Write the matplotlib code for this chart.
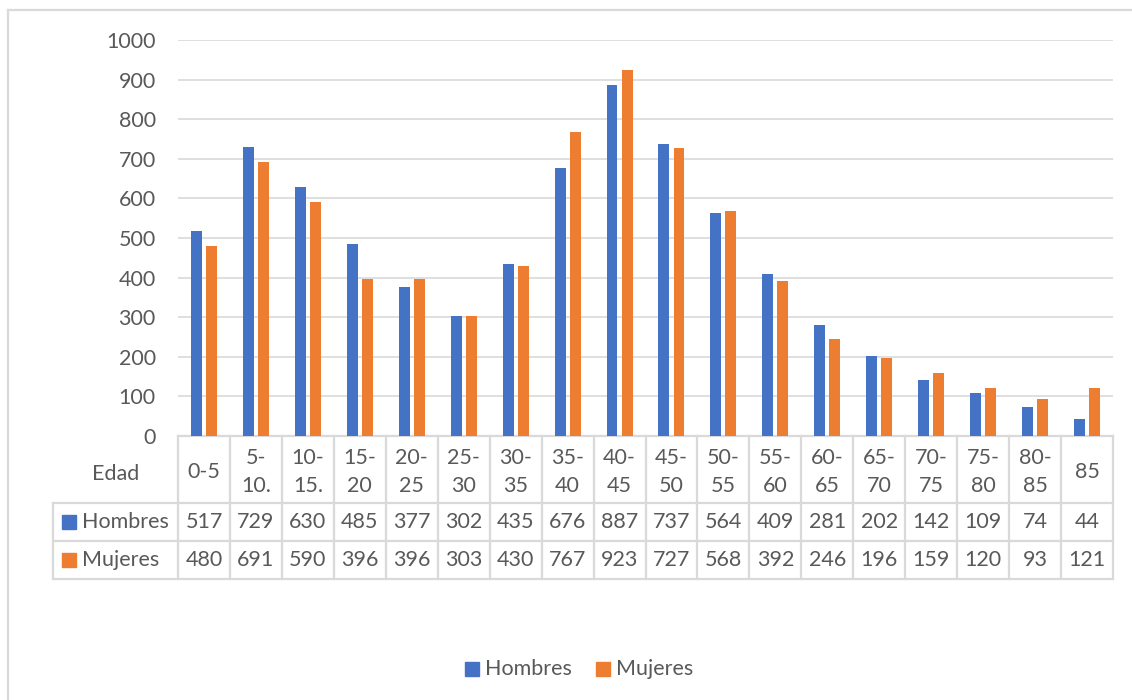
import matplotlib
matplotlib.use("Agg")
import matplotlib.pyplot as plt
from matplotlib.patches import Rectangle
from matplotlib.lines import Line2D
import numpy as np

plt.rcParams['font.family'] = ['Lato', 'DejaVu Sans']

edades = ["0-5", "5-\n10.", "10-\n15.", "15-\n20", "20-\n25", "25-\n30", "30-\n35",
          "35-\n40", "40-\n45", "45-\n50", "50-\n55", "55-\n60", "60-\n65", "65-\n70",
          "70-\n75", "75-\n80", "80-\n85", "85"]
hombres = [517, 729, 630, 485, 377, 302, 435, 676, 887, 737, 564, 409, 281, 202, 142, 109, 74, 44]
mujeres = [480, 691, 590, 396, 396, 303, 430, 767, 923, 727, 568, 392, 246, 196, 159, 120, 93, 121]

azul = "#4472C4"
naranja = "#ED7D31"
gris_txt = "#595959"
gris_lin = "#D9D9D9"
fs = 15.5

W, H = 1132, 700
fig = plt.figure(figsize=(W / 100, H / 100), dpi=100)
# plot area in pixels: x 178..1113, y 40..436
ax = fig.add_axes([178 / W, 1 - 436 / H, (1113 - 178) / W, (436 - 40) / H])

x = np.arange(len(edades))
ax.bar(x - 0.145, hombres, width=0.21, color=azul, zorder=3)
ax.bar(x + 0.145, mujeres, width=0.21, color=naranja, zorder=3)

ax.set_xlim(-0.5, len(edades) - 0.5)
ax.set_ylim(0, 1000)
ax.set_yticks(range(0, 1001, 100))
ax.yaxis.grid(True, color=gris_lin, linewidth=1.2)
ax.set_axisbelow(True)
ax.set_xticks([])
ax.tick_params(axis='y', length=0, pad=16, labelsize=fs, labelcolor=gris_txt)
for s in ax.spines.values():
    s.set_visible(False)

# data table under the axis
tr = ax.get_xaxis_transform()
col_w = (1113 - 178) / len(edades)          # pixels per category
ax_h = 436 - 40
def px_x(px):
    return -0.5 - (178 - px) / col_w
def px_y(py):
    return -(py - 436) / ax_h

left = px_x(53)
right = len(edades) - 0.5
y_head = px_y(503)
y_h = px_y(541)
y_m = px_y(579)
lkw = dict(color=gris_lin, linewidth=1.6, transform=tr, clip_on=False)

ax.add_line(Line2D([-0.5, right], [0, 0], **lkw))
for yy in (y_head, y_h, y_m):
    ax.add_line(Line2D([left, right], [yy, yy], **lkw))
ax.add_line(Line2D([left, left], [y_head, y_m], **lkw))
for b in np.arange(-0.5, len(edades), 1.0):
    ax.add_line(Line2D([b, b], [0, y_m], **lkw))

tkw = dict(transform=tr, ha='center', va='center', fontsize=fs, color=gris_txt,
           clip_on=False, linespacing=1.5)
mid_head = px_y(472)
mid_h = (y_head + y_h) / 2
mid_m = (y_h + y_m) / 2
ax.text((left - 0.5) / 2, px_y(474), "Edad", **tkw)
for i, lab in enumerate(edades):
    ax.text(i, mid_head, lab, **tkw)
    ax.text(i, mid_h, str(hombres[i]), **tkw)
    ax.text(i, mid_m, str(mujeres[i]), **tkw)

sq_w = 14 / col_w
sq_h = 14 / ax_h
for yy, col, name in ((mid_h, azul, "Hombres"), (mid_m, naranja, "Mujeres")):
    ax.add_patch(Rectangle((px_x(62), yy - sq_h / 2), sq_w, sq_h, color=col,
                           transform=tr, clip_on=False))
    ax.text(px_x(82), yy, name, transform=tr, ha='left', va='center',
            fontsize=fs, color=gris_txt, clip_on=False)

# legend at the bottom (drawn by hand, pixel positions)
for x0, col, name in ((465, azul, "Hombres"), (596, naranja, "Mujeres")):
    fig.add_artist(Rectangle((x0 / W, 1 - 676 / H), 14 / W, 14 / H, color=col))
    fig.text((x0 + 20) / W, 1 - 669 / H, name, ha='left', va='center',
             fontsize=fs, color=gris_txt)

# chart border (top and left visible)
fig.add_artist(Line2D([8 / W, 1], [1 - 10 / H, 1 - 10 / H], color=gris_lin, linewidth=1.6))
fig.add_artist(Line2D([8 / W, 8 / W], [0, 1 - 10 / H], color=gris_lin, linewidth=1.6))

fig.savefig("out.png", dpi=100, facecolor="white")
